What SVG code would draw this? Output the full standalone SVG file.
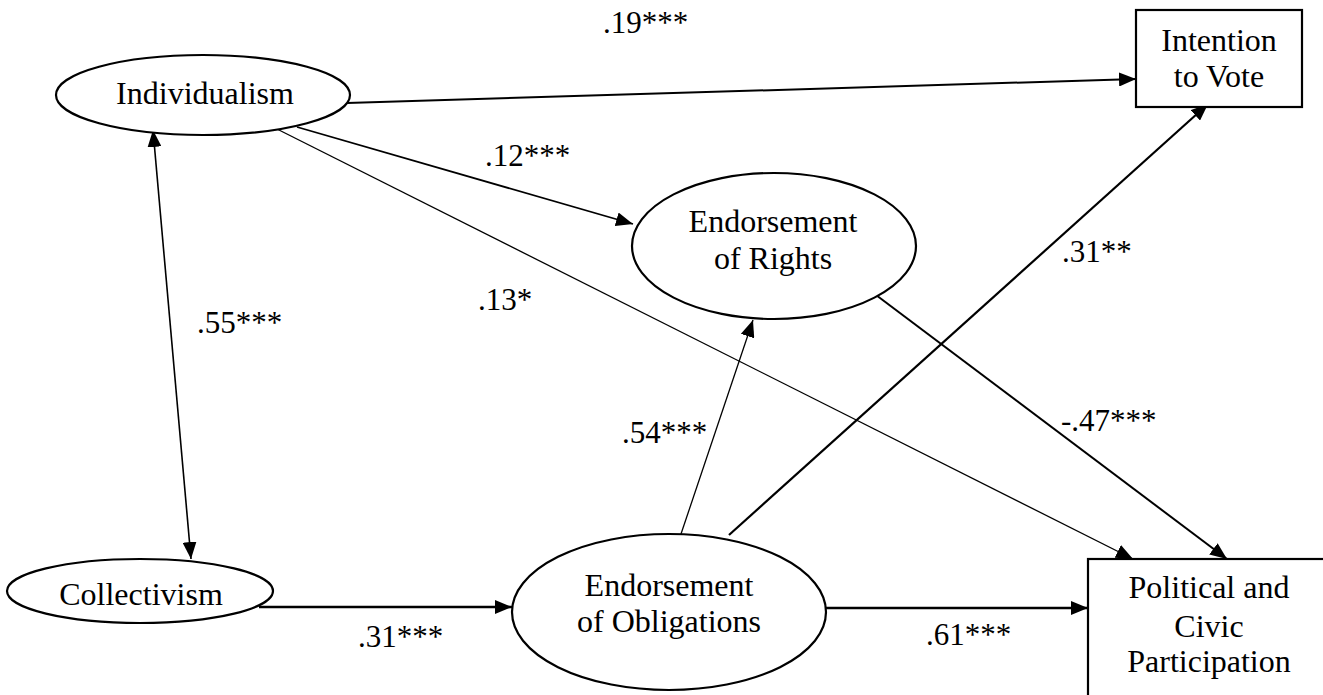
<svg xmlns="http://www.w3.org/2000/svg" width="1323" height="695" viewBox="0 0 1323 695">
<style>
.node{fill:#fff;stroke:#000;stroke-width:2.2}
.t{font-family:"Liberation Serif","Times New Roman",serif;font-size:32px;fill:#000}
.c{text-anchor:middle}
.l{font-family:"Liberation Serif","Times New Roman",serif;font-size:31px;fill:#000}
.e{fill:none;stroke:#000}
</style>
<defs>
<marker id="ah" markerUnits="userSpaceOnUse" markerWidth="18" markerHeight="14" refX="17" refY="7" orient="auto-start-reverse" viewBox="0 0 18 14">
<path d="M0,0 L17,7 L0,14 z" fill="#000"/>
</marker>
</defs>
<g id="connectors">
<line class="e" stroke-width="2" x1="347" y1="103" x2="1136" y2="79" marker-end="url(#ah)"/>
<line class="e" stroke-width="1.8" x1="297" y1="127" x2="633" y2="224" marker-end="url(#ah)"/>
<line class="e" stroke-width="1.3" x1="273" y1="127" x2="1133" y2="559" marker-end="url(#ah)"/>
<line class="e" stroke-width="1.6" x1="153" y1="130" x2="191" y2="559" marker-start="url(#ah)" marker-end="url(#ah)"/>
<line class="e" stroke-width="2.5" x1="259" y1="607" x2="512" y2="607" marker-end="url(#ah)"/>
<line class="e" stroke-width="1.3" x1="681" y1="534" x2="753" y2="320" marker-end="url(#ah)"/>
<line class="e" stroke-width="2.2" x1="729" y1="535" x2="1208" y2="104" marker-end="url(#ah)"/>
<line class="e" stroke-width="2" x1="876" y1="295" x2="1227" y2="559" marker-end="url(#ah)"/>
<line class="e" stroke-width="2.5" x1="826" y1="608" x2="1088" y2="608" marker-end="url(#ah)"/>
<text class="l" x="603" y="33">.19***</text>
<text class="l" x="485" y="166">.12***</text>
<text class="l" x="478" y="310">.13*</text>
<text class="l" x="197" y="333">.55***</text>
<text class="l" x="1062" y="262">.31**</text>
<text class="l" x="1061" y="431">-.47***</text>
<text class="l" x="622" y="443">.54***</text>
<text class="l" x="358" y="647">.31***</text>
<text class="l" x="926" y="645">.61***</text>
</g>
<g id="individualism">
<ellipse class="node" cx="203" cy="95" rx="147" ry="40"/>
<text class="t c" x="205" y="104">Individualism</text>
</g>
<g id="collectivism">
<ellipse class="node" cx="140" cy="591" rx="133" ry="32"/>
<text class="t c" x="141" y="605">Collectivism</text>
</g>
<g id="rights">
<ellipse class="node" cx="774" cy="246" rx="142" ry="73"/>
<text class="t c" x="773" y="232">Endorsement</text>
<text class="t c" x="773" y="269">of Rights</text>
</g>
<g id="obligations">
<ellipse class="node" cx="669" cy="612" rx="157" ry="78"/>
<text class="t c" x="669" y="596">Endorsement</text>
<text class="t c" x="669" y="632">of Obligations</text>
</g>
<g id="intention">
<rect class="node" x="1136" y="10" width="166" height="97"/>
<text class="t c" x="1219" y="51">Intention</text>
<text class="t c" x="1219" y="87">to Vote</text>
</g>
<g id="participation">
<rect class="node" x="1088" y="559" width="260" height="200"/>
<text class="t c" x="1209" y="598">Political and</text>
<text class="t c" x="1209" y="637">Civic</text>
<text class="t c" x="1209" y="672">Participation</text>
</g>
</svg>
